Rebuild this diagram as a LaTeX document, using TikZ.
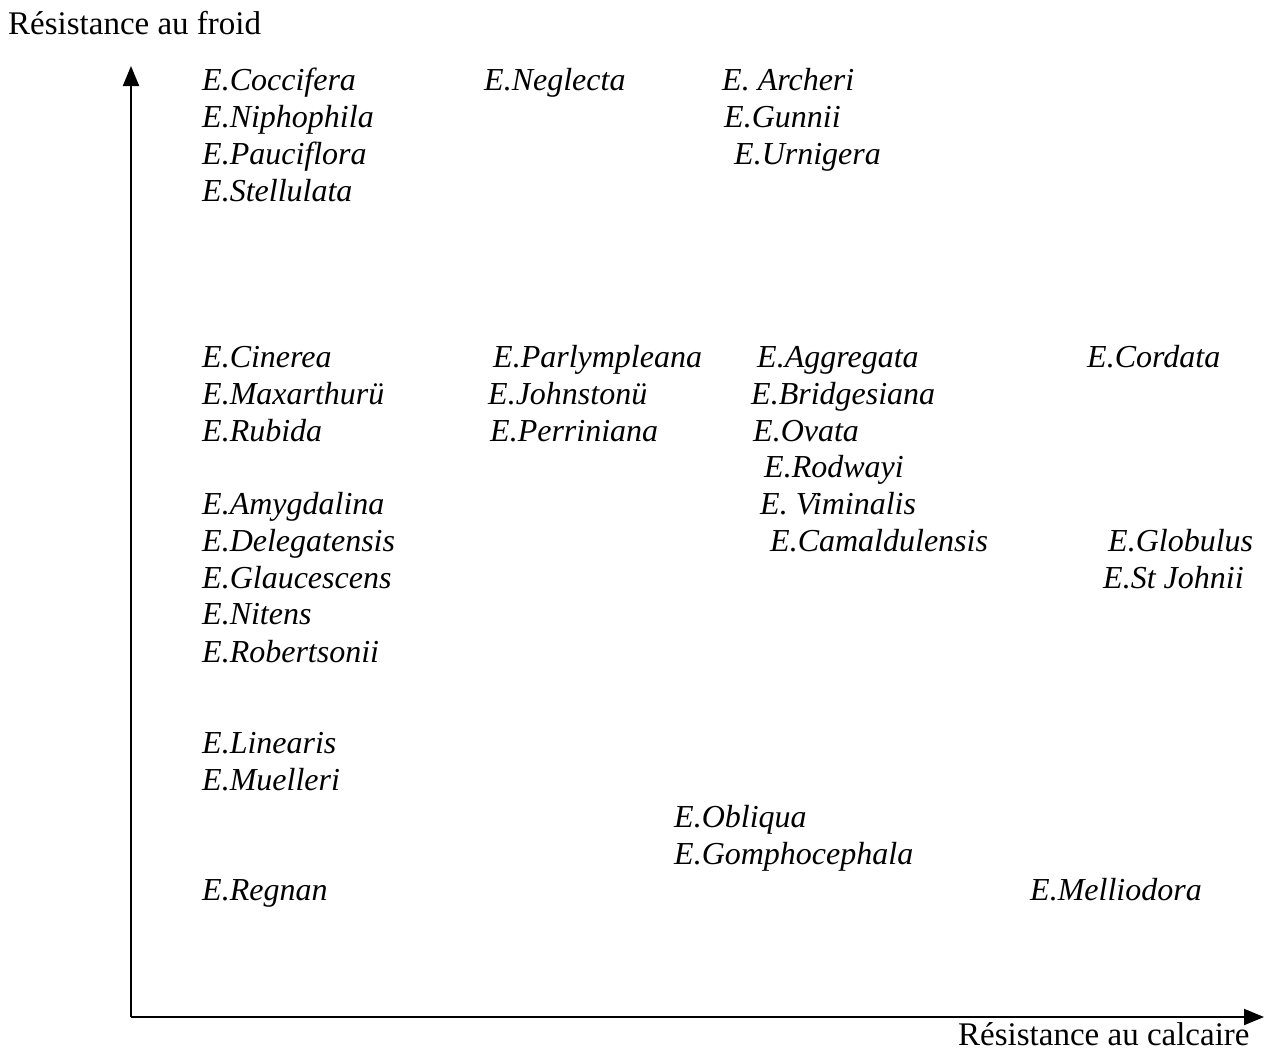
\documentclass[tikz,border=0pt]{standalone}
\usepackage{fontspec}
\setmainfont{Liberation Serif}
\usetikzlibrary{arrows.meta}

\tikzset{
  species/.style={anchor=base west, inner sep=0pt, font=\fontsize{32}{40}\selectfont\itshape},
  axlabel/.style={anchor=base west, inner sep=0pt, font=\fontsize{33}{40}\selectfont},
  axis/.style={line width=2pt, -{Triangle[length=20pt,width=16pt]}}
}

\begin{document}
\begin{tikzpicture}[x=1pt,y=-1pt]
    \useasboundingbox (0,0) rectangle (1266,1052);
    % axes
    \coordinate (origin) at (131,1017);
    \coordinate (ytop) at (131,66);
    \coordinate (xend) at (1264,1017);
    \draw[axis] (origin) -- (ytop);
    \draw[axis] (origin) -- (xend);
    \node[axlabel] (froid) at (8,34) {Résistance au froid};
    \node[axlabel] (calc) at (958,1045) {Résistance au calcaire};
    % top group
    \node[species] (cocc) at (202,90) {E.Coccifera};
    \node[species] (negl) at (484,90) {E.Neglecta};
    \node[species] (arch) at (722,90) {E. Archeri};
    \node[species] (niph) at (202,127) {E.Niphophila};
    \node[species] (gunn) at (724,127) {E.Gunnii};
    \node[species] (pauc) at (202,164) {E.Pauciflora};
    \node[species] (urni) at (734,164) {E.Urnigera};
    \node[species] (stel) at (202,201) {E.Stellulata};
    % middle group
    \node[species] (cine) at (202,367) {E.Cinerea};
    \node[species] (parl) at (493,367) {E.Parlympleana};
    \node[species] (aggr) at (757,367) {E.Aggregata};
    \node[species] (cord) at (1087,367) {E.Cordata};
    \node[species] (maxa) at (202,404) {E.Maxarthurü};
    \node[species] (john) at (488,404) {E.Johnstonü};
    \node[species] (brid) at (751,404) {E.Bridgesiana};
    \node[species] (rubi) at (202,441) {E.Rubida};
    \node[species] (perr) at (490,441) {E.Perriniana};
    \node[species] (ovat) at (753,441) {E.Ovata};
    \node[species] (rodw) at (764,477) {E.Rodwayi};
    \node[species] (amyg) at (202,514) {E.Amygdalina};
    \node[species] (vimi) at (760,514) {E. Viminalis};
    \node[species] (dele) at (202,551) {E.Delegatensis};
    \node[species] (cama) at (770,551) {E.Camaldulensis};
    \node[species] (glob) at (1108,551) {E.Globulus};
    \node[species] (glau) at (202,588) {E.Glaucescens};
    \node[species] (stjo) at (1103,588) {E.St Johnii};
    \node[species] (nite) at (202,624) {E.Nitens};
    \node[species] (robe) at (202,662) {E.Robertsonii};
    % lower group
    \node[species] (line) at (202,753) {E.Linearis};
    \node[species] (muel) at (202,790) {E.Muelleri};
    \node[species] (obli) at (674,827) {E.Obliqua};
    \node[species] (gomp) at (674,864) {E.Gomphocephala};
    \node[species] (regn) at (202,900) {E.Regnan};
    \node[species] (mell) at (1030,900) {E.Melliodora};
\end{tikzpicture}
\end{document}
